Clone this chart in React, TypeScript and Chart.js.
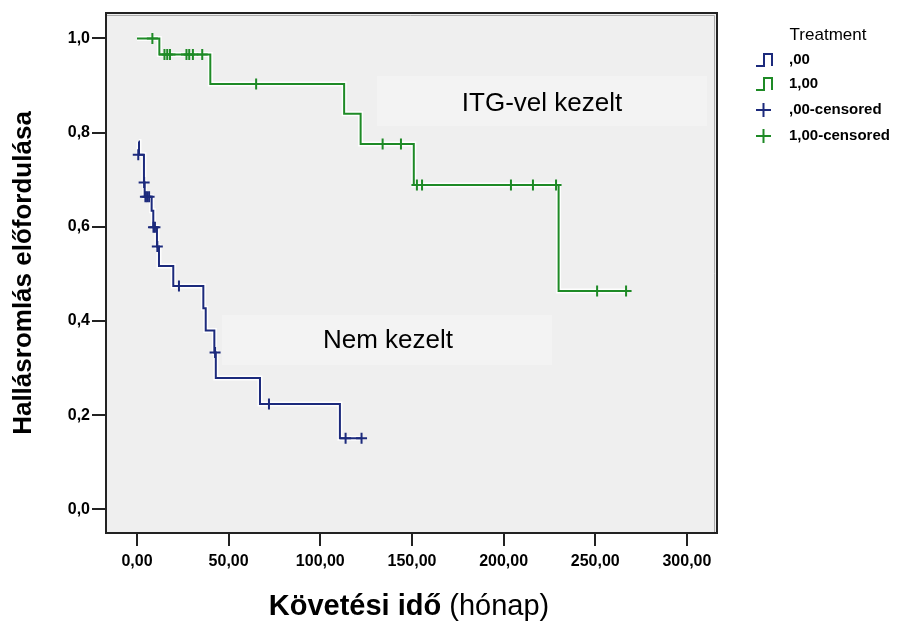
import React, { useEffect, useRef } from "react";
import { Chart, registerables } from "chart.js";

Chart.register(...registerables);

// ---- Data ----
// Treated (1,00) Kaplan-Meier steps
const greenTimes = [0, 12.2, 40, 113, 122, 151, 230, 267];
const greenSurv = [1.0, 0.966, 0.903, 0.84, 0.776, 0.689, 0.464, 0.464];
const greenCensorTimes = [8.4, 15, 16.5, 18, 27, 28.5, 30.5, 35.6, 65, 134, 144, 152.7, 155.5, 204, 216, 228.6, 251, 266.8];
const greenCensorSurv = [1.0, 0.966, 0.966, 0.966, 0.966, 0.966, 0.966, 0.966, 0.903, 0.776, 0.776, 0.689, 0.689, 0.689, 0.689, 0.689, 0.464, 0.464];

// Untreated (,00) Kaplan-Meier steps
const blueTimes = [1, 1.1, 3.8, 4.2, 8, 8.9, 10.9, 12, 19.8, 36.2, 37.5, 42.2, 43, 67.1, 110.7, 122.5];
const blueSurv = [0.781, 0.753, 0.694, 0.664, 0.634, 0.599, 0.558, 0.517, 0.4745, 0.427, 0.38, 0.333, 0.279, 0.224, 0.151, 0.151];
const blueCensorTimes = [0.7, 3.9, 4.6, 5.5, 6.6, 9.0, 9.8, 11.1, 22.9, 42.6, 72, 113.8, 122.5];
const blueCensorSurv = [0.753, 0.694, 0.664, 0.664, 0.664, 0.599, 0.599, 0.558, 0.4745, 0.333, 0.224, 0.151, 0.151];

const xTicks = [0, 50, 100, 150, 200, 250, 300];
const xTickLabels = ["0,00", "50,00", "100,00", "150,00", "200,00", "250,00", "300,00"];
const yTicks = [0, 0.2, 0.4, 0.6, 0.8, 1.0];
const yTickLabels = ["0,0", "0,2", "0,4", "0,6", "0,8", "1,0"];

const legendTitle = "Treatment";
const legendLabels = [",00", "1,00", ",00-censored", "1,00-censored"];
const xTitleBold = "Követési idő";
const xTitleRegular = " (hónap)";
const yTitle = "Hallásromlás előfordulása";
const annotTreated = "ITG-vel kezelt";
const annotUntreated = "Nem kezelt";

const BLUE = "#1c2a7c";
const GREEN = "#1e8a26";
const FONT = "'Liberation Sans', Arial, Helvetica, sans-serif";

const toXY = (xs: number[], ys: number[]) => xs.map((x, i) => ({ x, y: ys[i] }));

const decorPlugin = {
  id: "decor",
  beforeDraw(chart: any) {
    const { ctx, chartArea } = chart;
    const { left, top, right, bottom } = chartArea;
    ctx.save();
    ctx.fillStyle = "#ffffff";
    ctx.fillRect(0, 0, chart.width, chart.height);
    ctx.fillStyle = "#efefef";
    ctx.fillRect(left, top, right - left, bottom - top);
    // annotation boxes
    ctx.fillStyle = "#f3f3f3";
    ctx.fillRect(377, 76, 330, 50);
    ctx.fillRect(222, 315, 330, 50);
    ctx.fillStyle = "#000";
    ctx.font = `26px ${FONT}`;
    ctx.textAlign = "center";
    ctx.textBaseline = "middle";
    ctx.fillText(annotTreated, 542, 104);
    ctx.fillText(annotUntreated, 388, 341);
    ctx.restore();
  },
  afterDraw(chart: any) {
    const { ctx, chartArea } = chart;
    const { left, top, right, bottom } = chartArea;
    ctx.save();
    // box
    ctx.strokeStyle = "#aaaaaa";
    ctx.lineWidth = 1;
    ctx.beginPath();
    ctx.moveTo(left + 1, top + 2.5);
    ctx.lineTo(right - 2.5, top + 2.5);
    ctx.lineTo(right - 2.5, bottom - 1);
    ctx.stroke();
    ctx.strokeStyle = "#222";
    ctx.lineWidth = 2;
    ctx.strokeRect(left, top, right - left, bottom - top);

    // y title
    ctx.fillStyle = "#000";
    ctx.font = `bold 26px ${FONT}`;
    ctx.textAlign = "center";
    ctx.textBaseline = "middle";
    ctx.save();
    ctx.translate(24, 273);
    ctx.rotate(-Math.PI / 2);
    ctx.fillText(yTitle, 0, 0);
    ctx.restore();

    // x title (mixed weight)
    const fb = `bold 29px ${FONT}`;
    const fr = `29px ${FONT}`;
    ctx.font = fb;
    const wb = ctx.measureText(xTitleBold).width;
    ctx.font = fr;
    const wr = ctx.measureText(xTitleRegular).width;
    const startX = 409 - (wb + wr) / 2;
    ctx.textAlign = "left";
    ctx.font = fb;
    ctx.fillText(xTitleBold, startX, 607);
    ctx.font = fr;
    ctx.fillText(xTitleRegular, startX + wb, 607);

    // legend
    ctx.font = `17px ${FONT}`;
    ctx.textAlign = "center";
    ctx.fillText(legendTitle, 828, 35);
    ctx.font = `bold 15px ${FONT}`;
    ctx.textAlign = "left";
    const rows = [60, 84, 110, 136];
    ctx.lineWidth = 2;
    // step icons
    [BLUE, GREEN].forEach((c, i) => {
      const yb = rows[i] + 6;
      const yt = rows[i] - 6;
      ctx.strokeStyle = c;
      ctx.beginPath();
      ctx.moveTo(756, yb);
      ctx.lineTo(764, yb);
      ctx.lineTo(764, yt);
      ctx.lineTo(772, yt);
      ctx.lineTo(772, yb);
      ctx.stroke();
    });
    // cross icons
    [BLUE, GREEN].forEach((c, i) => {
      const y = rows[i + 2];
      ctx.strokeStyle = c;
      ctx.beginPath();
      ctx.moveTo(756, y);
      ctx.lineTo(771, y);
      ctx.moveTo(763.5, y - 7);
      ctx.lineTo(763.5, y + 7);
      ctx.stroke();
    });
    ctx.fillStyle = "#000";
    legendLabels.forEach((t, i) => ctx.fillText(t, 789, rows[i]));
    ctx.restore();
  },
};

export default function App() {
  const ref = useRef<HTMLCanvasElement | null>(null);
  useEffect(() => {
    document.body.style.margin = "0";
    const canvas = ref.current;
    if (!canvas) return;
    const stepLine = (data: any[], color: string, order: number, width: number) => ({
      data,
      borderColor: color,
      borderWidth: width,
      stepped: "before" as const,
      pointRadius: 0,
      fill: false,
      order,
    });
    const censor = (data: any[], color: string) => ({
      data,
      showLine: false,
      pointStyle: "cross" as const,
      pointRadius: 5.5,
      pointBorderWidth: 2,
      pointBorderColor: color,
      pointBackgroundColor: color,
      borderColor: color,
      order: 0,
    });
    const greenLine = toXY(greenTimes, greenSurv);
    const blueLine = toXY(blueTimes, blueSurv);
    const chart = new Chart(canvas, {
      type: "line",
      data: {
        datasets: [
          censor(toXY(greenCensorTimes, greenCensorSurv), GREEN),
          censor(toXY(blueCensorTimes, blueCensorSurv), BLUE),
          stepLine(greenLine, GREEN, 1, 2),
          stepLine(blueLine, BLUE, 1, 2),
          stepLine(greenLine, "rgba(255,255,255,0.9)", 5, 5),
          stepLine(blueLine, "rgba(255,255,255,0.9)", 5, 5),
        ] as any,
      },
      options: {
        animation: false,
        responsive: false,
        events: [],
        layout: { padding: { top: 13, right: 186, bottom: 0, left: 0 } },
        plugins: { legend: { display: false }, tooltip: { enabled: false } },
        scales: {
          x: {
            type: "linear",
            min: -16.9,
            max: 316.4,
            afterBuildTicks: (s: any) => {
              s.ticks = xTicks.map((v) => ({ value: v }));
            },
            afterFit: (s: any) => {
              s.height = 90;
            },
            grid: { display: true, drawOnChartArea: false, drawTicks: true, tickLength: 13, color: "#222", lineWidth: 2 },
            border: { display: false },
            ticks: {
              padding: 6,
              color: "#000",
              maxRotation: 0,
              autoSkip: false,
              font: { family: FONT, size: 16, weight: "bold" },
              callback: (v: any) => xTickLabels[xTicks.indexOf(Number(v))],
            },
          },
          y: {
            type: "linear",
            min: -0.05,
            max: 1.054,
            afterBuildTicks: (s: any) => {
              s.ticks = yTicks.map((v) => ({ value: v }));
            },
            afterFit: (s: any) => {
              s.width = 106;
            },
            grid: { display: true, drawOnChartArea: false, drawTicks: true, tickLength: 14, color: "#222", lineWidth: 2 },
            border: { display: false },
            ticks: {
              padding: 2,
              color: "#000",
              autoSkip: false,
              font: { family: FONT, size: 16, weight: "bold" },
              callback: (v: any) => {
                const i = yTicks.findIndex((t) => Math.abs(t - Number(v)) < 1e-6);
                return i >= 0 ? yTickLabels[i] : "";
              },
            },
          },
        },
      } as any,
      plugins: [decorPlugin],
    });
    return () => chart.destroy();
  }, []);
  return (
    <div style={{ width: 903, height: 623 }}>
      <canvas ref={ref} width={903} height={623} />
    </div>
  );
}
